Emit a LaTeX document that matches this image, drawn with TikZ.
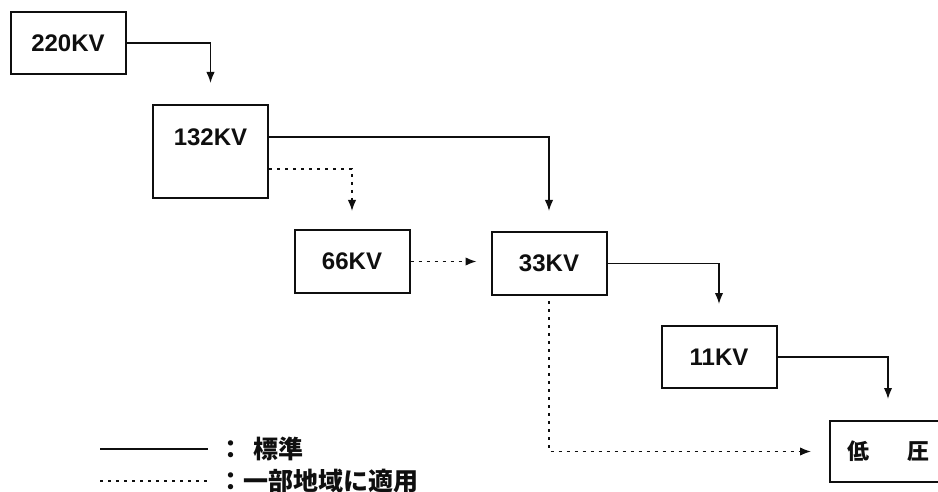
\documentclass[tikz,border=0pt]{standalone}
\usepackage{fontspec}
\setmainfont{Liberation Sans}
\newfontfamily\jpfont{Noto Sans CJK JP}
\usetikzlibrary{positioning,arrows.meta,calc}
\definecolor{inkBlack}{RGB}{15,15,15}

\begin{document}
\begin{tikzpicture}[x=0.5pt,y=-0.5pt,
    vbox/.style={draw=inkBlack,line width=1pt,minimum width=57.5pt,inner sep=0pt,
      text=inkBlack,font=\bfseries\fontsize{12}{14}\selectfont},
    feed/.style={draw=inkBlack,line width=0.75pt,-{Latex[length=5.5pt,width=4.2pt]}},
    part/.style={feed,dash pattern=on 1.5pt off 2.5pt},
    legtext/.style={anchor=west,inner sep=0pt,text=inkBlack,font=\jpfont\bfseries\fontsize{12.5}{15}\selectfont}]
  \useasboundingbox (0,0) rectangle (938,492);
  % voltage levels
  \foreach \nm/\cx/\cy/\hh/\lbl in {v220/68/43/62/220KV, v66/352/261.5/63/66KV,
      v33/549/263.5/63/33KV, v11/719/357/62/11KV}
    \node[vbox,minimum height=\hh*0.5pt] (\nm) at (\cx,\cy) {\lbl};
  \node[vbox,minimum height=46.5pt,text depth=14pt] (v132) at (210.5,151.5) {132KV};
  \node[vbox,minimum height=30.5pt,minimum width=58pt,
    font=\jpfont\bfseries\fontsize{11}{13}\selectfont] (low) at (888,451.5) {低\hspace{19pt}圧};
  % standard steps
  \draw[feed,shorten >=10.5pt] (v220.east) -| (v132.north);
  \draw[feed,shorten >=10pt] ($(v132.east)+(0,-14.5)$) -| (v33.north);
  \draw[feed,shorten >=10.5pt] (v33.east) -| (v11.north);
  \draw[feed,shorten >=10.5pt] (v11.east) -| (low.north);
  % some regions only
  \draw[part,shorten >=9pt] ($(v132.east)+(0,17.5)$) -| (v66.north);
  \draw[part,shorten >=7pt] (v66.east) -- (v66.east -| v33.west);
  \draw[part,shorten <=2.5pt,shorten >=9pt] (v33.south) |- (low.west);
  % legend
  \coordinate (stdL) at (100,449);
  \coordinate (partL) at (100,481);
  \node[legtext] (stdT) at (218,449) {：\hspace{5pt}標準};
  \node[legtext] (partT) at (218,481) {：一部地域に適用};
  \draw[inkBlack,line width=0.75pt,shorten >=5pt] (stdL) -- (stdL -| stdT.west);
  \draw[inkBlack,line width=0.75pt,dash pattern=on 1.5pt off 2.5pt,shorten >=5pt]
    (partL) -- (partL -| partT.west);
\end{tikzpicture}
\end{document}
